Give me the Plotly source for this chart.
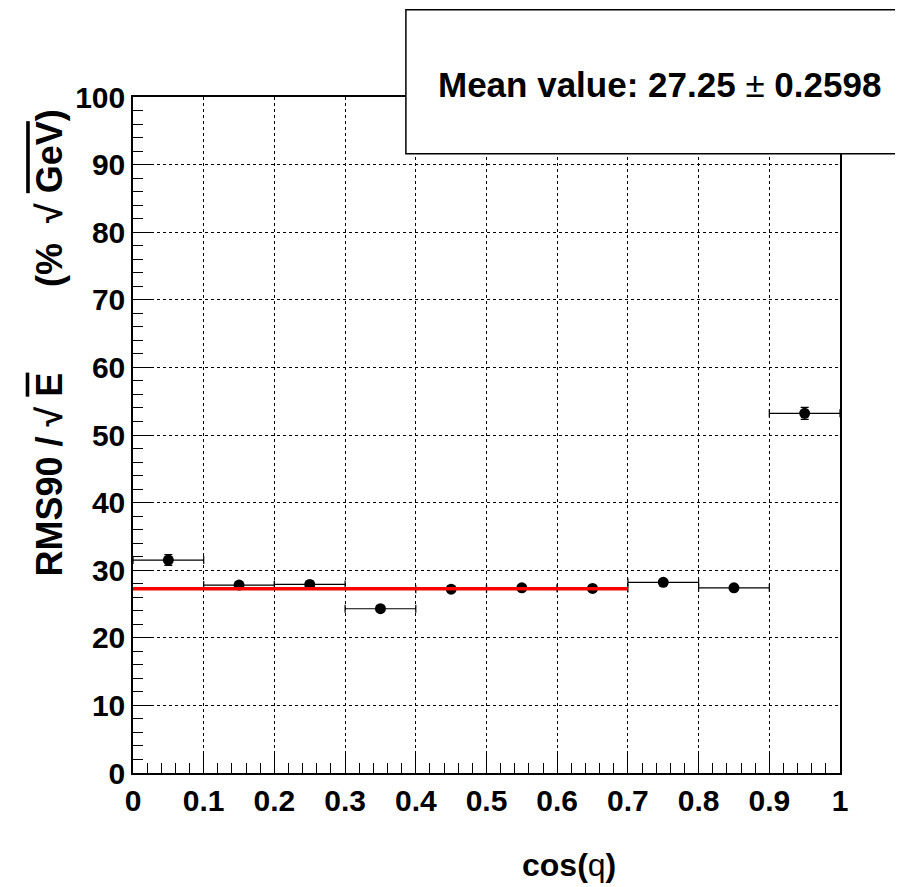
import plotly.graph_objects as go

# Data
cos_theta = [0.05, 0.15, 0.25, 0.35, 0.45, 0.55, 0.65, 0.75, 0.85, 0.95]
bin_half_width = [0.05] * 10
rms90 = [31.5, 27.8, 27.9, 24.3, 27.2, 27.4, 27.3, 28.2, 27.4, 53.2]
rms90_err = [0.8, 0.5, 0.5, 0.4, 0.5, 0.4, 0.4, 0.4, 0.4, 0.9]
fit_x = [0.0, 0.7]
mean_value = 27.25
mean_error = 0.2598
x_ticks = [0, 0.1, 0.2, 0.3, 0.4, 0.5, 0.6, 0.7, 0.8, 0.9, 1]
y_ticks = [0, 10, 20, 30, 40, 50, 60, 70, 80, 90, 100]

FONT = "Liberation Sans"

fig = go.Figure()
fig.add_trace(go.Scatter(
    x=cos_theta, y=rms90, mode="markers",
    marker=dict(color="black", size=11),
    error_x=dict(type="data", array=bin_half_width, color="black", thickness=1.2, width=4),
    error_y=dict(type="data", array=rms90_err, color="black", thickness=1.2, width=4),
    showlegend=False,
))
fig.add_trace(go.Scatter(
    x=fit_x, y=[mean_value] * len(fit_x), mode="lines",
    line=dict(color="red", width=3.5), showlegend=False,
))

axis_common = dict(
    showline=True, linecolor="black", linewidth=1.5, mirror=True,
    showgrid=True, gridcolor="black", gridwidth=1, griddash="dot",
    zeroline=False, ticks="inside", tickcolor="black", tickwidth=1,
    tickfont=dict(family=FONT, size=30, color="black", weight="bold"),
)

fig.update_xaxes(
    range=[0, 1], tickvals=x_ticks, ticktext=[f"{v:g}" for v in x_ticks],
    ticklen=20, minor=dict(dtick=0.02, ticks="inside", ticklen=10, tickcolor="black", showgrid=False),
    **axis_common,
)
fig.update_yaxes(
    range=[0, 100], tickvals=y_ticks, ticktext=[str(v) for v in y_ticks],
    ticklen=20, minor=dict(dtick=2, ticks="inside", ticklen=10, tickcolor="black", showgrid=False),
    **axis_common,
)

fig.update_layout(
    width=903, height=887,
    margin=dict(l=125, r=71, t=89, b=122),
    paper_bgcolor="white", plot_bgcolor="white",
    font=dict(family=FONT, color="black"),
    shapes=[dict(
        type="rect", xref="paper", yref="paper",
        x0=0.386, x1=1.1, y0=0.916, y1=1.129,
        fillcolor="white", line=dict(color="black", width=1.5), layer="above",
    )],
    annotations=[
        dict(
            text=f"<b>Mean value: {mean_value:g} </b>±<b> {mean_error:g}</b>",
            xref="paper", yref="paper", x=0.744, y=1.019,
            xanchor="center", yanchor="middle", showarrow=False,
            font=dict(family=FONT, size=35, color="black"),
        ),
        dict(
            text="<b>cos(</b>q<b>)</b>",
            xref="paper", yref="paper", x=0.547, y=-0.136,
            xanchor="left", yanchor="middle", showarrow=False,
            font=dict(family=FONT, size=32, color="black"),
        ),
        dict(
            text="<b>RMS90 / √ <span style='text-decoration:overline'>E</span></b>",
            xref="paper", yref="paper", x=-0.118, y=0.441,
            xanchor="center", yanchor="middle", showarrow=False, textangle=-90,
            font=dict(family=FONT, size=36, color="black"),
        ),
        dict(
            text="<b>(%  √ <span style='text-decoration:overline'>GeV</span>)</b>",
            xref="paper", yref="paper", x=-0.118, y=0.850,
            xanchor="center", yanchor="middle", showarrow=False, textangle=-90,
            font=dict(family=FONT, size=36, color="black"),
        ),
    ],
)

fig.write_html("out.html")
